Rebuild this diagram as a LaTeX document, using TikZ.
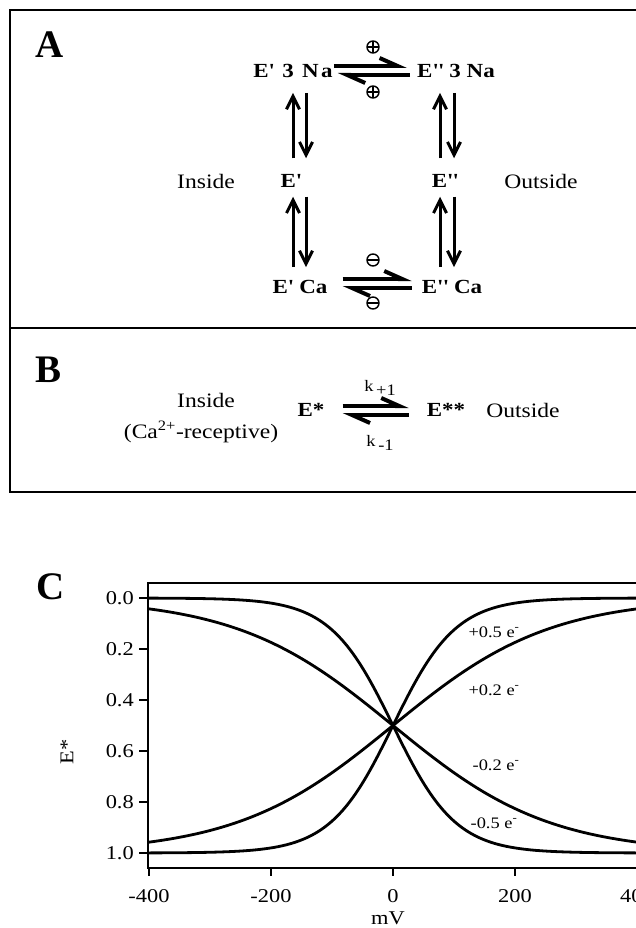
\documentclass[tikz,border=0pt]{standalone}
\usepackage{fontspec}
\setmainfont[FakeStretch=1.15]{Liberation Serif}
\newfontfamily\panelfont{Liberation Serif}
\usetikzlibrary{arrows.meta,positioning,calc}

\tikzset{
  boxline/.style={line width=2pt},
  panel/.style={font=\panelfont\fontsize{39}{41}\selectfont\bfseries, inner sep=0pt},
  species/.style={font=\fontsize{20}{22}\selectfont\bfseries, inner sep=1pt},
  side/.style={font=\fontsize{20.5}{30}\selectfont, inner sep=1pt},
  rate/.style={font=\fontsize{16}{18}\selectfont, inner sep=0pt},
  sign/.style={circle, draw, line width=1.4pt, minimum size=12pt, inner sep=0pt},
  plussign/.style={sign, path picture={\draw[line width=1.4pt]
      (path picture bounding box.west) -- (path picture bounding box.east)
      (path picture bounding box.north) -- (path picture bounding box.south);}},
  minussign/.style={sign, path picture={\draw[line width=1.4pt]
      (path picture bounding box.west) -- (path picture bounding box.east);}},
  eqarrow/.style={line width=4pt, -{Straight Barb[left,length=18pt,width=16pt]}},
  vup/.style={line width=3pt, -{Straight Barb[length=13pt,width=13pt]}},
  frame/.style={line width=2.2pt},
  curve/.style={line width=2.8pt},
  tick/.style={font=\fontsize{19.5}{21}\selectfont, inner sep=1pt},
  clabel/.style={font=\fontsize{16}{18}\selectfont, inner sep=0pt}
}

\begin{document}
\begin{tikzpicture}[x=1pt,y=-1pt]
  \useasboundingbox (0,0) rectangle (635,928);

  % boxes of A and B
  \draw[boxline] (10,10) rectangle (660,492);
  \draw[boxline] (10,328) -- (660,328);
  \node[panel] (labA) at (50,45) {A};
  \node[panel] (labB) at (49,370) {B};
  \node[panel] (labC) at (51,587) {C};

  % A: the four-state cycle
  \node[species] (ep3) at (293,71) {\addfontfeature{LetterSpace=12}E\textquotesingle{} 3 Na};
  \node[species] (epp3) at (456,71) {E\textquotesingle\textquotesingle{} 3 Na};
  \node[species] (ep) at (291,181) {E\textquotesingle};
  \node[species] (epp) at (445,181) {E\textquotesingle\textquotesingle};
  \node[species] (epca) at (300,287) {E\textquotesingle{} Ca};
  \node[species] (eppca) at (452,287) {E\textquotesingle\textquotesingle{} Ca};
  \node[side] (insA) at (206,181) {Inside};
  \node[side] (outA) at (541,181) {Outside};

  \draw[eqarrow] ($(ep3.east)+(0,-5)$) -- ($(epp3.west)+(-9,-5)$);
  \draw[eqarrow] ($(epp3.west)+(-6,4)$) -- ($(ep3.east)+(4,4)$);
  \node[plussign] (plusT) at (373,47) {};
  \node[plussign] (plusB) at (373,92) {};
  \draw[eqarrow] ($(epca.east)+(14,-8)$) -- ($(eppca.west)+(-9,-8)$);
  \draw[eqarrow] ($(eppca.west)+(-9,1)$) -- ($(epca.east)+(14,1)$);
  \node[minussign] (minT) at (373,260) {};
  \node[minussign] (minB) at (373,303) {};

  \draw[vup] ($(ep.north)+(2,-15)$) -- ($(ep.north |- ep3.south)+(2,14)$);
  \draw[vup] ($(ep.north |- ep3.south)+(15,14)$) -- ($(ep.north)+(15,-15)$);
  \draw[vup] ($(ep.south |- epca.north)+(2,-12)$) -- ($(ep.south)+(2,8)$);
  \draw[vup] ($(ep.south)+(15,8)$) -- ($(ep.south |- epca.north)+(15,-12)$);
  \draw[vup] ($(epp.north)+(-5,-15)$) -- ($(epp.north |- epp3.south)+(-5,14)$);
  \draw[vup] ($(epp.north |- epp3.south)+(9,14)$) -- ($(epp.north)+(9,-15)$);
  \draw[vup] ($(epp.south |- eppca.north)+(-5,-12)$) -- ($(epp.south)+(-5,8)$);
  \draw[vup] ($(epp.south)+(9,8)$) -- ($(epp.south |- eppca.north)+(9,-12)$);

  % B: two-state model
  \node[side] (insB) at (206,400) {Inside};
  \node[side] (recB) at (201,432) {(Ca\textsuperscript{2+}-receptive)};
  \node[species] (es) at (311,410) {E*};
  \node[species] (ess) at (446,410) {E**};
  \node[side] (outB) at (523,410) {Outside};
  \draw[eqarrow] ($(es.east)+(17,-4)$) -- ($(ess.west)+(-17,-4)$);
  \draw[eqarrow] ($(ess.west)+(-17,5)$) -- ($(es.east)+(17,5)$);
  \node[rate] (kp) at (380,388) {k\raisebox{-4pt}{\,+1}};
  \node[rate] (km) at (380,443) {k\raisebox{-4pt}{\,-1}};

  % C: occupancy of E* against voltage
  \draw[frame] (148,583) rectangle (660,868);
  \foreach \v/\t in {0/0.0,0.2/0.2,0.4/0.4,0.6/0.6,0.8/0.8,1/1.0}{
    \draw[frame] (139,{598+255*\v}) -- (148,{598+255*\v});
    \node[tick, anchor=east] (yt\t) at (135,{598+255*\v}) {\t};
  }
  \foreach \m in {-400,-200,0,200,400}{
    \draw[frame] ({393+0.61*\m},868) -- ({393+0.61*\m},876);
    \node[tick] (xt\m) at ({393+0.61*\m},896) {\m};
  }
  \node[tick] (xlab) at (388,918) {mV};
  \node[tick, rotate=90] (ylab) at (67,752) {E*};

  \foreach \z in {0.5,0.2,-0.2,-0.5}{
    \draw[curve] plot[domain=-400:440, samples=120, smooth]
      ({393+0.61*\x}, {598+255/(1+exp(\z*\x/25.7))});
  }
  \node[clabel] (c1) at (494,632) {+0.5 e\textsuperscript{-}};
  \node[clabel] (c2) at (494,690) {+0.2 e\textsuperscript{-}};
  \node[clabel] (c3) at (496,765) {-0.2 e\textsuperscript{-}};
  \node[clabel] (c4) at (494,823) {-0.5 e\textsuperscript{-}};
\end{tikzpicture}
\end{document}
